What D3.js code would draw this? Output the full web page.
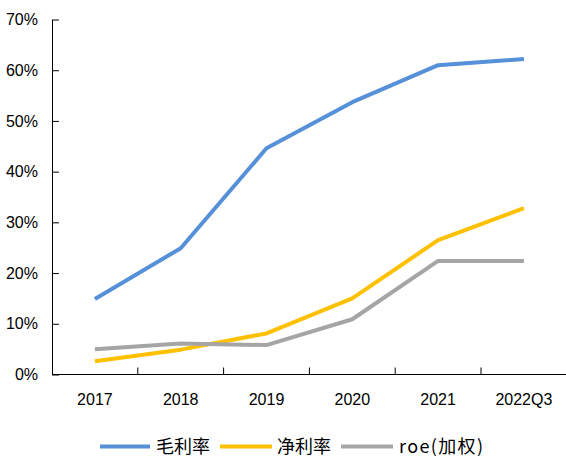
<!DOCTYPE html>
<html>
<head>
<meta charset="utf-8">
<script src="https://cdn.jsdelivr.net/npm/d3@7"></script>
<style>
  html, body { margin: 0; padding: 0; background: #fff; }
  svg { display: block; }
</style>
</head>
<body>
<svg id="chart" width="566" height="459"></svg>
<script>
// Periods on the x axis
const categories = ["2017", "2018", "2019", "2020", "2021", "2022Q3"];
// Ratios in percent
const grossMargin = [14.9, 24.9, 44.6, 53.7, 61.0, 62.2];   // 毛利率
const netMargin   = [2.6, 4.9, 8.1, 15.0, 26.5, 32.8];      // 净利率
const roeWeighted = [5.0, 6.1, 5.8, 10.9, 22.4, 22.4];      // roe(加权)
const yTicks = [0, 10, 20, 30, 40, 50, 60, 70];
const seriesNames = ["毛利率", "净利率", "roe(加权)"];
const seriesColors = ["#5590d8", "#ffc000", "#a5a5a5"];

const series = [grossMargin, netMargin, roeWeighted].map((values, i) => ({
  name: seriesNames[i], color: seriesColors[i], values
}));

const svg = d3.select("#chart");
const plotLeft = 52, plotRight = 566.8, plotTop = 19.5, plotBottom = 374.5;

const x = d3.scaleBand().domain(categories).range([plotLeft, plotRight]);
const y = d3.scaleLinear().domain([0, 70]).range([plotBottom, plotTop]);

const latin = "'Liberation Sans', Arial, sans-serif";

// Y axis: ticks point inward, labels on the left
const yAxis = svg.append("g")
  .attr("transform", `translate(${plotLeft},0)`)
  .call(d3.axisRight(y).tickValues(yTicks).tickFormat(d => d + "%").tickSize(7).tickSizeOuter(0));
yAxis.select(".domain").attr("stroke", "#000");
yAxis.selectAll(".tick line").attr("stroke", "#000");
yAxis.selectAll(".tick text")
  .attr("x", -14).attr("text-anchor", "end")
  .attr("font-family", latin).attr("font-size", 16).attr("fill", "#000");

// X axis: tick marks at band boundaries, pointing up
const xAxisG = svg.append("g").attr("transform", `translate(0,${plotBottom})`);
xAxisG.append("line")
  .attr("x1", plotLeft).attr("x2", plotRight).attr("y1", 0).attr("y2", 0)
  .attr("stroke", "#000");
categories.slice(1).forEach(c => {
  xAxisG.append("line")
    .attr("x1", x(c)).attr("x2", x(c)).attr("y1", 0).attr("y2", -7)
    .attr("stroke", "#000");
});
xAxisG.selectAll("text.cat").data(categories).join("text")
  .attr("class", "cat")
  .attr("x", d => x(d) + x.bandwidth() / 2)
  .attr("y", 30.5)
  .attr("text-anchor", "middle")
  .attr("font-family", latin).attr("font-size", 16).attr("fill", "#000")
  .text(d => d);

// Lines
const line = d3.line()
  .x((d, i) => x(categories[i]) + x.bandwidth() / 2)
  .y(d => y(d));

svg.selectAll("path.series").data(series).join("path")
  .attr("class", "series")
  .attr("d", d => line(d.values))
  .attr("fill", "none")
  .attr("stroke", d => d.color)
  .attr("stroke-width", 4)
  .attr("stroke-linejoin", "round")
  .attr("stroke-linecap", "butt");

// Legend
const legendY = 446.5;
const legendItems = [
  { x1: 100, x2: 150, tx: 156 },
  { x1: 220, x2: 272, tx: 277 },
  { x1: 341, x2: 393, tx: 399 }
];
const lg = svg.append("g");
series.forEach((s, i) => {
  const it = legendItems[i];
  lg.append("line")
    .attr("x1", it.x1).attr("x2", it.x2).attr("y1", legendY).attr("y2", legendY)
    .attr("stroke", s.color).attr("stroke-width", 4);
  const t = lg.append("text")
    .attr("x", it.tx).attr("y", legendY + 6.5)
    .attr("font-family", "'Noto Sans CJK SC', sans-serif")
    .attr("font-size", 18).attr("fill", "#000")
    .text(s.name);
  if (i === 2) t.attr("textLength", 84).attr("lengthAdjust", "spacing");
});
</script>
</body>
</html>
